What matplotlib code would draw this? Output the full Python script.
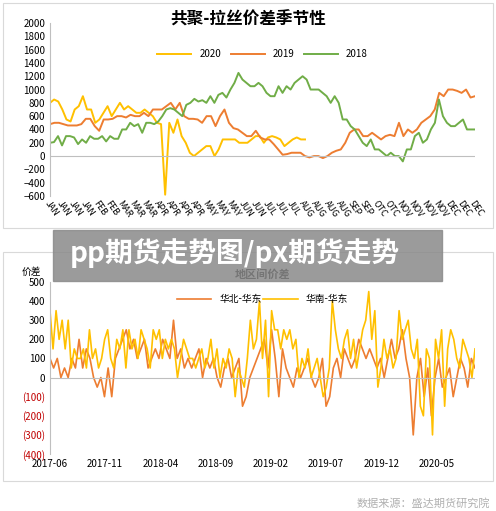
import numpy as np
import matplotlib.pyplot as plt
from matplotlib.patches import Rectangle

plt.rcParams['font.family'] = ['Noto Sans CJK SC', 'DejaVu Sans']

# ---- top chart data (seasonal spread, one year on 0..1)
months = ['JAN', 'JAN', 'JAN', 'JAN', 'FEB', 'FEB', 'MAR', 'MAR', 'MAR', 'APR', 'APR', 'APR', 'APR',
          'MAY', 'MAY', 'MAY', 'JUN', 'JUN', 'JUL', 'JUL', 'JUL', 'AUG', 'AUG', 'AUG', 'AUG',
          'SEP', 'SEP', 'OTC', 'OTC', 'NOV', 'NOV', 'NOV', 'NOV', 'DEC', 'DEC', 'DEC']
y2020 = [800, 850, 820, 700, 550, 520, 700, 750, 900, 700, 700, 500, 550, 650, 750, 600, 700, 800,
         700, 750, 700, 650, 650, 700, 650, 600, 500, 480, -580, 500, 350, 550, 300, 200, 50, 0, 50,
         100, 150, 150, 0, 100, 250, 250, 250, 250, 200, 200, 200, 250, 300, 300, 200, 280, 300, 280,
         250, 150, 200, 250, 280, 250, 250]
y2019 = [480, 500, 500, 480, 460, 460, 460, 480, 560, 560, 450, 380, 550, 550, 560, 600, 600, 580,
         620, 600, 600, 650, 600, 700, 700, 700, 750, 800, 700, 800, 600, 560, 560, 550, 500, 600,
         600, 450, 600, 700, 500, 420, 400, 350, 300, 300, 380, 280, 250, 250, 180, 100, 20, 30, 50,
         50, 50, 0, -20, 0, 0, -30, 0, 50, 80, 100, 200, 350, 400, 400, 300, 300, 350, 300, 250, 300,
         320, 300, 500, 300, 400, 350, 400, 500, 550, 600, 700, 950, 900, 1000, 1000, 980, 950, 1000,
         880, 900]
y2018 = [200, 210, 300, 160, 300, 300, 280, 180, 250, 200, 300, 260, 260, 300, 220, 300, 260, 260,
         400, 400, 500, 450, 480, 350, 500, 500, 480, 520, 600, 700, 720, 700, 650, 600, 770, 800,
         860, 820, 840, 800, 900, 800, 920, 950, 880, 1000, 1100, 1250, 1150, 1100, 1050, 1050, 1100,
         1050, 950, 900, 900, 1050, 950, 1050, 1000, 1100, 1150, 1200, 1150, 1000, 1000, 1000, 950,
         900, 800, 900, 800, 550, 550, 450, 400, 300, 200, 150, 250, 100, 100, 50, 0, 50, 0, 0, -80,
         100, 100, 300, 350, 200, 250, 400, 500, 850, 600, 500, 450, 450, 500, 550, 400, 400, 400]

# ---- bottom chart data (regional spread, months since 2017-06)
date_labels = ['2017-06', '2017-11', '2018-04', '2018-09', '2019-02', '2019-07', '2019-12', '2020-05']
north_east = [100, 50, 100, 0, 50, 0, 100, 50, 200, 50, 150, 100, 0, -50, 0, -100, 50, -100, 100, 150,
              200, 250, 150, 200, 100, 150, 200, 50, 100, 150, 100, 200, 150, 100, 300, 100, 150, 50,
              100, 50, 100, 150, 0, 100, 50, 100, 0, -50, 50, 100, 0, 50, 100, -150, -100, 0, 50, 100,
              150, 200, 50, 250, 100, -100, 150, 50, 0, -50, 50, 0, 50, 100, 0, -50, 0, 100, -150, -100,
              50, 100, 0, 150, 100, 50, 100, 200, 150, 100, 150, 100, 50, 100, 0, 100, 200, 100, 150,
              250, 100, 0, -300, 0, 100, -100, 50, -200, 0, 100, -50, 0, 50, -100, 0, 100, 50, -50, 100, 50]
south_east = [350, 150, 350, 200, 300, 150, 300, 50, 150, 100, 100, 150, 50, 250, 100, 150, 50, 100, 200,
              250, 100, 50, 200, 150, 250, 50, 250, 150, 200, 100, 250, 200, 150, 50, 250, 200, 250, 100,
              200, 150, 200, 150, 0, 100, 200, 150, 100, 100, 50, 100, 150, 50, 100, 200, 50, 150, 0, 100,
              50, 150, 100, -100, 50, 0, -50, 100, 300, 150, 200, 400, 100, 300, -100, 350, 250, 250, 150,
              250, 200, 250, 150, 200, 0, 100, 50, 150, 0, 50, 100, 0, -100, -50, 50, 400, 250, 150, 100,
              200, 250, 100, 200, 50, 150, 250, 300, 450, 200, 350, -50, 50, 200, 100, 150, 50, 100, 350,
              200, 250, 300, 150, 100, 200, -150, -200, 150, 100, -300, 200, 100, 250, -150, 150, 250, 200,
              100, 50, 200, 150, 100, 0, 150]

fig = plt.figure(figsize=(4.96, 5.11), dpi=100)
W, H = 496, 511

def box(x0, y0, x1, y1):
    fig.add_artist(Rectangle((x0 / W, 1 - y1 / H), (x1 - x0) / W, (y1 - y0) / H,
                             transform=fig.transFigure, fill=False, ec='#d9d9d9', lw=0.8))

box(3, 3, 493, 228)
box(3, 252, 493, 481)

# ---- top
ax = fig.add_axes([50 / W, 1 - 196 / H, 425 / W, 173 / H])
ax.plot(np.linspace(0, 0.6, len(y2020)), y2020, color='#ffc000', lw=1.4, label='2020')
ax.plot(np.linspace(0, 1, len(y2019)), y2019, color='#ed7d31', lw=1.4, label='2019')
ax.plot(np.linspace(0, 1, len(y2018)), y2018, color='#70ad47', lw=1.4, label='2018')
ax.set_xlim(0, 1)
ax.set_ylim(-600, 2000)
ax.set_yticks(range(-600, 2001, 200))
ax.set_xticks(np.linspace(0, 1, len(months)))
ax.set_xticklabels(months, rotation=-55, ha='left', rotation_mode='anchor', fontsize=6.5)
ax.tick_params(axis='y', labelsize=7, length=0)
ax.tick_params(axis='x', length=0, pad=2)
for s in ['top', 'right', 'bottom']:
    ax.spines[s].set_visible(False)
ax.spines['left'].set_color('#bfbfbf')
ax.axhline(0, color='#bfbfbf', lw=0.8)
fig.text(248 / W, 1 - 20 / H, '共聚-拉丝价差季节性', ha='center', va='center', fontsize=12,
         fontweight='bold')
ax.legend(loc='center', bbox_to_anchor=(0.5, 0.82), ncol=3, frameon=False, fontsize=7,
          handlelength=3.5, columnspacing=1.0)

# ---- bottom
bx = fig.add_axes([50 / W, 1 - 454 / H, 425 / W, 172 / H])
bx.plot(np.linspace(0, 38.5, len(north_east)), north_east, color='#ed7d31', lw=1.2, label='华北-华东')
bx.plot(np.linspace(0, 38.5, len(south_east)), south_east, color='#ffc000', lw=1.2, label='华南-华东')
bx.set_xlim(0, 38.5)
bx.set_ylim(-400, 500)
yt = list(range(-400, 501, 100))
bx.set_yticks(yt)
bx.set_yticklabels([f'({-v})' if v < 0 else str(v) for v in yt], fontsize=7)
for lab, v in zip(bx.get_yticklabels(), yt):
    if v < 0:
        lab.set_color('#c00000')
bx.set_xticks(range(0, 36, 5))
bx.set_xticklabels(date_labels, fontsize=7)
bx.tick_params(length=0)
for s in ['top', 'right', 'bottom']:
    bx.spines[s].set_visible(False)
bx.spines['left'].set_color('#bfbfbf')
bx.axhline(0, color='#bfbfbf', lw=0.8)
bx.set_title('地区间价差', fontsize=8, fontweight='bold', pad=3)
bx.text(-0.02, 1.04, '价差', transform=bx.transAxes, ha='right', fontsize=7)
bx.legend(loc='upper center', bbox_to_anchor=(0.5, 0.98), ncol=2, frameon=False, fontsize=7,
          handlelength=3.5, columnspacing=0.2)

# ---- overlay banner and watermark
fig.add_artist(Rectangle((53 / W, 1 - 281 / H), 389 / W, 51 / H, transform=fig.transFigure,
                         color='#8a8a8a', alpha=0.85, zorder=10))
fig.text(235 / W, 1 - 253 / H, 'pp期货走势图/px期货走势', ha='center', va='center', fontsize=20,
         fontweight='bold', color='white', zorder=11)
fig.text(490 / W, 1 - 503 / H, '数据来源：盛达期货研究院', ha='right', va='center', fontsize=8,
         color='#b0b0b0', style='italic')

fig.savefig('out.png', dpi=100)
